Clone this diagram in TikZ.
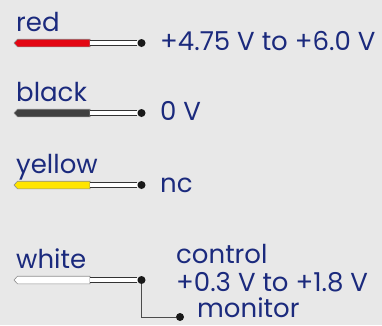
\documentclass[tikz,border=0pt]{standalone}
\usepackage{fontspec}
\setmainfont{Poppins}
\usepackage{tikz}
\definecolor{bg}{RGB}{232,232,232}
\definecolor{txt}{RGB}{27,42,125}
\definecolor{wred}{RGB}{227,6,19}
\definecolor{wblack}{RGB}{64,64,64}
\definecolor{wyellow}{RGB}{255,229,0}
\definecolor{wwhite}{RGB}{255,255,255}

\begin{document}
\begin{tikzpicture}
  [x=1pt,y=-1pt,every node/.style={text=txt,font=\fontsize{26}{29}\selectfont,inner sep=0pt},
   pin/.style={circle,fill=black!90,minimum size=8pt,inner sep=0pt},
   bare/.style={draw=black!80,line width=0.8pt,double=white,double distance=3.6pt}]
  \fill[bg] (0,0) rectangle (382,325);
  \useasboundingbox (0,0) rectangle (382,325);

  \foreach \name/\y/\col/\lab in {r/43/wred/red,k/113/wblack/black,y/185/wyellow/yellow,w/280/wwhite/white}{
    \filldraw[fill=\col,draw=black!45,line width=0.6pt]
      (90,\y-3.8) -- (17.5,\y-3.8) -- (14,\y) -- (17.5,\y+3.8) -- (90,\y+3.8) -- cycle;
    \coordinate (\name end) at (90,\y);
    \node[pin] (\name) at (141.5,\y) {};
    \draw[bare] (\name end) -- (\name);
    \node[anchor=base west] (\name lab) at (16,\y-11.5) {\lab};
  }

  \node[anchor=base west] (rsig) at (160,50) {+4.75 V to +6.0 V};
  \node[anchor=base west] (ksig) at (160,120) {0 V};
  \node[anchor=base west] (ysig) at (160,192) {nc};
  \node[anchor=base west] (ctrl) at (176,263) {control};
  \node[anchor=base west] (csig) at (176,291) {+0.3 V to +1.8 V};

  \node[pin] (m) at (180,317) {};
  \draw[black!70,line width=0.8pt] (w) |- (m);
  \node[anchor=base west] (mon) at (197,317.5) {monitor};
\end{tikzpicture}
\end{document}
